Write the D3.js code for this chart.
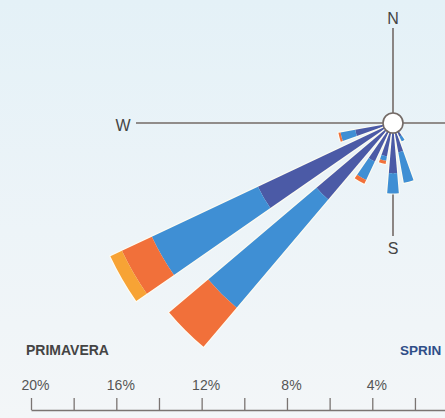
<!DOCTYPE html>
<html><head><meta charset="utf-8">
<script src="https://cdn.jsdelivr.net/npm/d3@7"></script>
<style>html,body{margin:0;padding:0;overflow:hidden;background:#eef5f8}</style>
</head><body><div id="chart"></div>
<script>
// Wind directions (compass bearing, degrees clockwise from north)
const directions = [255, 240, 225, 210, 195, 180, 165, 150];
// Frequency (%) per speed class, stacked outward
const classLight    = [1.8, 7.0, 4.7, 2.0, 1.6, 2.35, 1.4, 0.7];
const classModerate = [0.7, 5.5, 6.65, 0.95, 0.2, 0.95, 1.45, 0.25];
const classStrong   = [0.1, 1.55, 2.4, 0.2, 0.15, 0, 0, 0];
const classGale     = [0, 0.6, 0, 0, 0, 0, 0, 0];
const classColors   = ["#4b5aa6", "#3f8fd4", "#f1703a", "#f7a335"];
const axisTicks     = [20, 18, 16, 14, 12, 10, 8, 6, 4, 2, 0];
const axisLabelled  = [20, 16, 12, 8, 4];
const seasonLabel   = "PRIMAVERA";
const seasonLabelEn = "SPRIN";
const compassLabels = ["N", "W", "S"];

const W = 445, H = 418;
const svg = d3.select("#chart").append("svg").attr("width", W).attr("height", H);

// background
const defs = svg.append("defs");
const g = defs.append("linearGradient").attr("id","bg").attr("x1",0).attr("y1",0).attr("x2",0).attr("y2",1);
g.append("stop").attr("offset","0%").attr("stop-color","#e4f1f7");
g.append("stop").attr("offset","55%").attr("stop-color","#edf4f8");
g.append("stop").attr("offset","100%").attr("stop-color","#f3f6f8");
svg.append("rect").attr("width",W).attr("height",H).attr("fill","url(#bg)");

const cx = 393, cy = 123, circleR = 10;
const r = d3.scaleLinear().domain([0, 20]).range([0, 426.6]);
const halfW = 4.75 * Math.PI / 180;

// compass lines
const lineColor = "#736a66";
const comp = svg.append("g").attr("stroke", lineColor).attr("stroke-width", 1.6);
comp.append("line").attr("x1", cx).attr("y1", 28).attr("x2", cx).attr("y2", cy);
comp.append("line").attr("x1", cx).attr("y1", cy).attr("x2", cx).attr("y2", 236);
comp.append("line").attr("x1", 136).attr("y1", cy).attr("x2", cx).attr("y2", cy);
comp.append("line").attr("x1", cx).attr("y1", cy).attr("x2", W).attr("y2", cy);

const labelFont = "Liberation Sans, Arial, sans-serif";
svg.append("text").text(compassLabels[0]).attr("x", cx).attr("y", 24)
  .attr("text-anchor","middle").attr("font-family",labelFont).attr("font-size",16).attr("fill","#444");
svg.append("text").text(compassLabels[1]).attr("x", 123).attr("y", 131)
  .attr("text-anchor","middle").attr("font-family",labelFont).attr("font-size",16).attr("fill","#444");
svg.append("text").text(compassLabels[2]).attr("x", cx).attr("y", 254)
  .attr("text-anchor","middle").attr("font-family",labelFont).attr("font-size",16).attr("fill","#444");

// stacked wedges
const series = [classLight, classModerate, classStrong, classGale];
const arc = d3.arc();
const rose = svg.append("g").attr("transform", `translate(${cx},${cy})`);
directions.forEach((dir, i) => {
  const a = dir * Math.PI / 180;
  const total = d3.sum(series, s => s[i]);
  rose.append("path")
    .attr("d", arc({innerRadius: 0, outerRadius: r(total), startAngle: a - halfW, endAngle: a + halfW}))
    .attr("fill", "none").attr("stroke", "#fffdf2").attr("stroke-width", 2.2).attr("stroke-opacity", 0.9)
    .attr("stroke-linejoin","round");
  let acc = 0;
  series.forEach((s, k) => {
    const v = s[i];
    if (v <= 0) return;
    rose.append("path")
      .attr("d", arc({innerRadius: r(acc), outerRadius: r(acc + v), startAngle: a - halfW, endAngle: a + halfW}))
      .attr("fill", classColors[k]);
    acc += v;
  });
});

// center circle
svg.append("circle").attr("cx", cx).attr("cy", cy).attr("r", circleR)
  .attr("fill", "#ffffff").attr("stroke", lineColor).attr("stroke-width", 1.6);

// season labels
svg.append("text").text(seasonLabel).attr("x", 26).attr("y", 355)
  .attr("font-family",labelFont).attr("font-weight","bold").attr("font-size",14).attr("fill","#444");
svg.append("text").text(seasonLabelEn).attr("x", 400).attr("y", 355)
  .attr("font-family",labelFont).attr("font-weight","bold").attr("font-size",13.5).attr("fill","#2f4e88");

// percentage axis
const x = d3.scaleLinear().domain([20, 0]).range([31, 457.6]);
const axis = d3.axisTop(x).tickValues(axisTicks).tickSize(12).tickSizeOuter(0).tickPadding(8)
  .tickFormat(d => axisLabelled.includes(d) ? d + "%" : "");
const ax = svg.append("g").attr("transform", "translate(0,410)").call(axis);
ax.select(".domain").attr("stroke", "#7a7472").attr("stroke-width", 1.3);
ax.selectAll(".tick line").attr("stroke", "#7a7472").attr("stroke-width", 1.3);
ax.selectAll(".tick text").attr("font-family", labelFont).attr("font-size", 14)
  .attr("fill", "#555").attr("dx", 4);
</script></body></html>
